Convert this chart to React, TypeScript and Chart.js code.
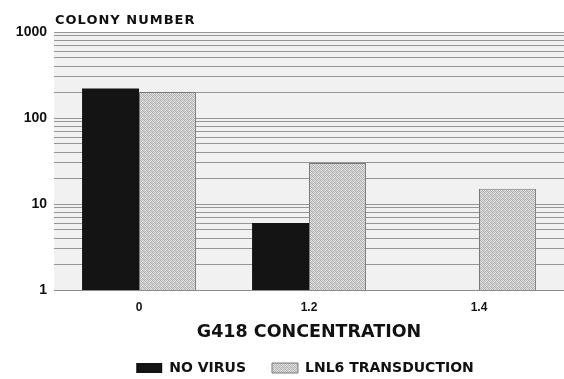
import React, { useEffect, useRef } from 'react';
import { Chart, registerables } from 'chart.js';

Chart.register(...registerables);

const categories = ['0', '1.2', '1.4'];
const noVirus: (number | null)[] = [220, 6, null];
const lnl6Transduction: (number | null)[] = [200, 30, 15];
const seriesNames = ['NO VIRUS', 'LNL6 TRANSDUCTION'];
const yTickValues = [
  1, 2, 3, 4, 5, 6, 7, 8, 9,
  10, 20, 30, 40, 50, 60, 70, 80, 90,
  100, 200, 300, 400, 500, 600, 700, 800, 900,
  1000,
];
const yTickLabels = ['1', '10', '100', '1000'];
const yAxisTitle = 'COLONY NUMBER';
const xAxisTitle = 'G418 CONCENTRATION';

function makePattern(): CanvasPattern | string {
  const c = document.createElement('canvas');
  c.width = 4;
  c.height = 4;
  const p = c.getContext('2d');
  if (!p) return '#c0c0c0';
  const levels = [
    [176, 218, 190, 226],
    [224, 170, 230, 184],
    [192, 232, 174, 216],
    [214, 182, 222, 172],
  ];
  for (let y = 0; y < 4; y++) {
    for (let x = 0; x < 4; x++) {
      const v = levels[y][x];
      p.fillStyle = `rgb(${v},${v},${v})`;
      p.fillRect(x, y, 1, 1);
    }
  }
  const pat = p.createPattern(c, 'repeat');
  return pat || '#c0c0c0';
}

const bgPlugin = {
  id: 'plotBg',
  afterLayout(chart: any) {
    const l = chart.legend;
    if (l) {
      l.left += 46;
      l.top += 6;
      l.bottom += 6;
    }
  },
  beforeDraw(chart: any) {
    const { ctx, chartArea } = chart;
    ctx.save();
    ctx.fillStyle = '#f1f1f1';
    ctx.fillRect(chartArea.left, chartArea.top, chartArea.right - chartArea.left, chartArea.bottom - chartArea.top);
    ctx.restore();
  },
  afterDraw(chart: any) {
    const { ctx, chartArea } = chart;
    ctx.save();
    ctx.fillStyle = '#111';
    ctx.font = 'bold 13px "DejaVu Sans"';
    (ctx as any).letterSpacing = '1px';
    ctx.textAlign = 'left';
    ctx.textBaseline = 'alphabetic';
    ctx.fillText(yAxisTitle, chartArea.left + 1, 24);
    ctx.restore();
  },
};

export default function App() {
  const ref = useRef<HTMLCanvasElement>(null);
  useEffect(() => {
    if (!ref.current) return;
    const pattern = makePattern();
    const chart = new Chart(ref.current, {
      type: 'bar',
      data: {
        labels: categories,
        datasets: [
          {
            label: seriesNames[0],
            data: noVirus,
            backgroundColor: '#141414',
            borderColor: '#141414',
            borderWidth: 0,
          },
          {
            label: seriesNames[1],
            data: lnl6Transduction,
            backgroundColor: pattern as any,
            borderColor: '#7a7a7a',
            borderWidth: 1,
          },
        ],
      },
      options: {
        animation: false,
        responsive: true,
        maintainAspectRatio: false,
        layout: { padding: { top: 32, left: 0, right: 0, bottom: 0 } },
        datasets: {
          bar: { categoryPercentage: 0.67, barPercentage: 1.0 },
        },
        plugins: {
          tooltip: { enabled: false },
          title: { display: false },
          legend: {
            display: true,
            position: 'bottom',
            labels: {
              boxWidth: 26,
              boxHeight: 10,
              padding: 26,
              color: '#111',
              font: { family: '"DejaVu Sans"', weight: 'bold', size: 14 },
            },
          },
        },
        scales: {
          x: {
            grid: { display: false, drawTicks: false },
            border: { display: true, color: '#8a8a8a', width: 1 },
            ticks: {
              color: '#111',
              padding: 10,
              font: { family: '"Liberation Sans"', weight: 'bold', size: 12 },
            },
            title: {
              display: true,
              text: xAxisTitle,
              color: '#111',
              padding: { top: 0, bottom: -14 },
              font: { family: '"DejaVu Sans"', weight: 'bold', size: 17.5 },
            },
            afterFit(scale: any) {
              scale.height = 39;
            },
          },
          y: {
            type: 'logarithmic',
            min: 1,
            max: 1000,
            grid: { color: '#969696', lineWidth: 1, drawTicks: false },
            border: { display: false },
            afterBuildTicks(scale: any) {
              scale.ticks = yTickValues.map((v) => ({ value: v }));
            },
            ticks: {
              color: '#111',
              padding: 7,
              autoSkip: false,
              font: { family: '"Liberation Sans"', weight: 'bold', size: 14 },
              callback(value: any) {
                const s = String(value);
                return yTickLabels.includes(s) ? s : '';
              },
            },
            afterFit(scale: any) {
              scale.width = 54;
            },
          },
        },
      },
      plugins: [bgPlugin],
    });
    return () => chart.destroy();
  }, []);
  return (
    <div style={{ position: 'absolute', left: 0, top: 0, width: 564, height: 379, background: '#fff' }}>
      <canvas ref={ref} />
    </div>
  );
}
